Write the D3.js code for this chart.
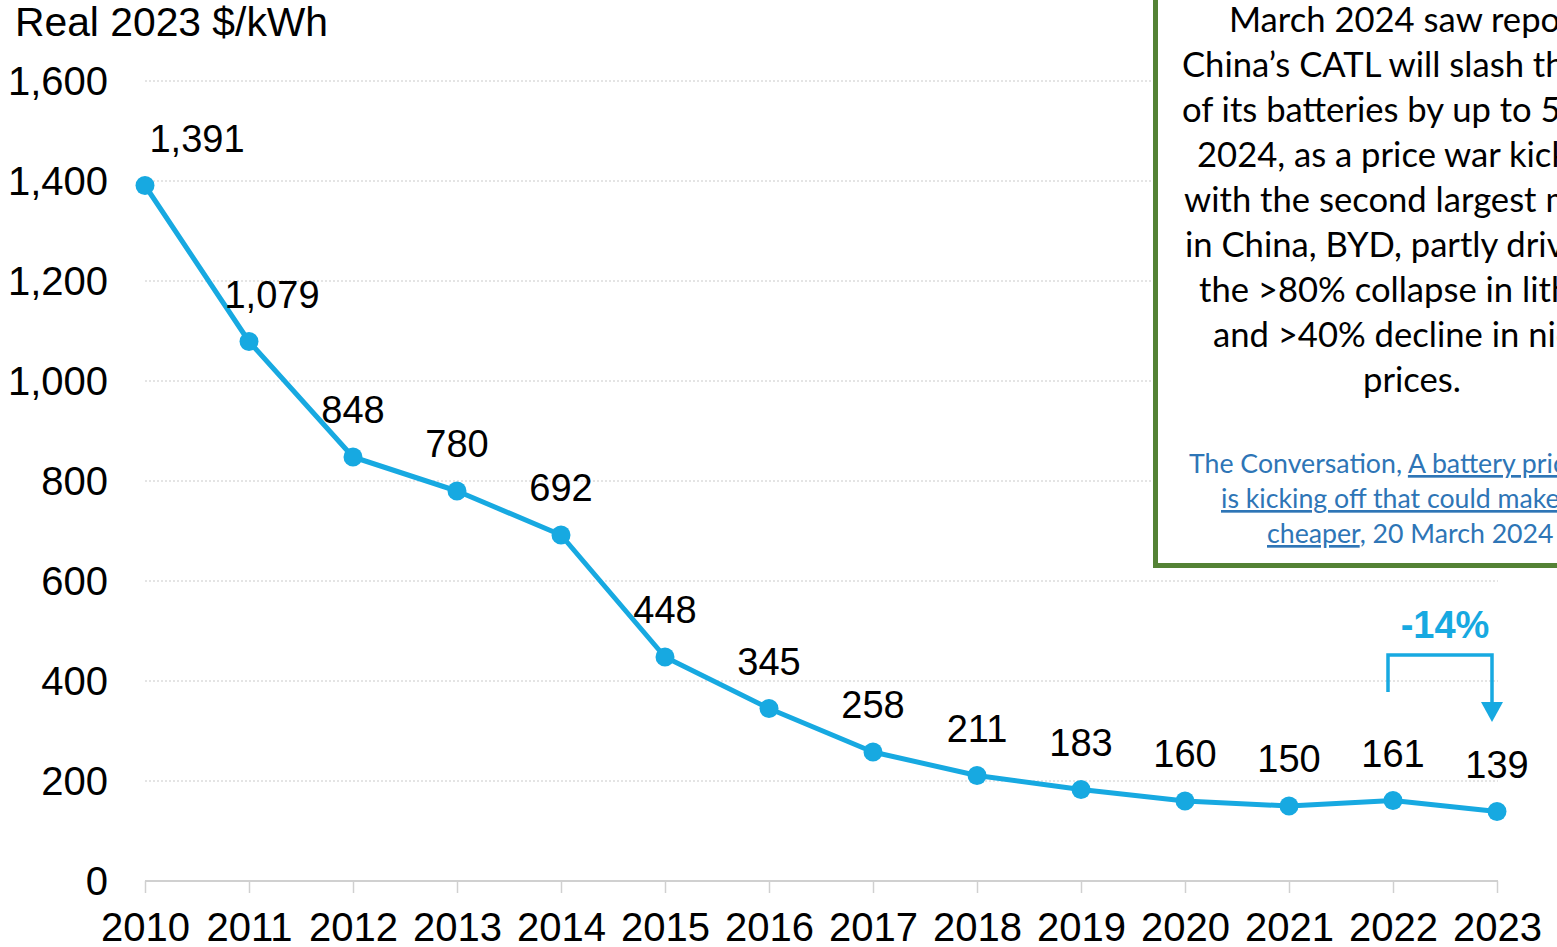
<!DOCTYPE html>
<html>
<head>
<meta charset="utf-8">
<script src="https://cdn.jsdelivr.net/npm/d3@7"></script>
<style>
  html, body { margin: 0; padding: 0; background: #fff; overflow: hidden; }
  svg { display: block; }
</style>
</head>
<body>
<svg id="chart" width="1557" height="947"></svg>
<script>
// ---- data ----
const years = [2010, 2011, 2012, 2013, 2014, 2015, 2016, 2017, 2018, 2019, 2020, 2021, 2022, 2023];
const prices = [1391, 1079, 848, 780, 692, 448, 345, 258, 211, 183, 160, 150, 161, 139];
const yTicks = [0, 200, 400, 600, 800, 1000, 1200, 1400, 1600];
const axisTitle = "Real 2023 $/kWh";
const changeLabel = "-14%";
const noteLines = [
  "March 2024 saw reports that",
  "China\u2019s CATL will slash the cost",
  "of its batteries by up to 50% in",
  "2024, as a price war kicks off",
  "with the second largest maker",
  "in China, BYD, partly driven by",
  "the >80% collapse in lithium",
  "and >40% decline in nickel",
  "prices."
];
const sourceLines = [
  [["The Conversation, ", false], ["A battery price war", true]],
  [["is kicking off that could make EVs", true]],
  [["cheaper", true], [", 20 March 2024", false]]
];

// ---- layout ----
const svg = d3.select("#chart");
const lineColor = "#17A9E1";
const x = d3.scaleLinear().domain([2010, 2023]).range([145, 1497]);
const y = d3.scaleLinear().domain([0, 1600]).range([881, 81]);
const FONT = "'Liberation Sans', Arial, sans-serif";

// gridlines (dotted)
svg.append("g").selectAll("line")
  .data(yTicks.filter(d => d > 0))
  .join("line")
  .attr("x1", x(2010)).attr("x2", x(2023) + 1)
  .attr("y1", d => y(d)).attr("y2", d => y(d))
  .attr("stroke", "#c9c9c9").attr("stroke-width", 1.2)
  .attr("stroke-dasharray", "2,2");

// y axis labels
svg.append("g").selectAll("text")
  .data(yTicks)
  .join("text")
  .attr("x", 108).attr("y", d => y(d)).attr("dy", "0.36em")
  .attr("text-anchor", "end")
  .style("font-family", FONT).style("font-size", "40px").attr("fill", "#000")
  .text(d => d3.format(",")(d));

// x axis
const xAxis = d3.axisBottom(x).tickValues(years).tickFormat(d3.format("d")).tickSize(12).tickPadding(20);
const gx = svg.append("g").attr("transform", `translate(0,${y(0)})`).call(xAxis);
gx.select(".domain").attr("stroke", "#d0d0d0").attr("stroke-width", 2)
  .attr("d", `M${x(2010)},0H${x(2023) + 1}`);
gx.selectAll(".tick line").attr("stroke", "#d0d0d0").attr("stroke-width", 1.5);
gx.selectAll(".tick text")
  .style("font-family", FONT).style("font-size", "40px").attr("fill", "#000")
  .attr("dy", "0.71em").attr("y", 32);

// title
svg.append("text")
  .attr("x", 15).attr("y", 36)
  .attr("textLength", 313).attr("lengthAdjust", "spacingAndGlyphs")
  .style("font-family", FONT).style("font-size", "40px").attr("fill", "#000")
  .text(axisTitle);

// line + points
const pts = years.map((yr, i) => ({ year: yr, value: prices[i] }));
svg.append("path")
  .datum(pts)
  .attr("fill", "none").attr("stroke", lineColor).attr("stroke-width", 5)
  .attr("stroke-linejoin", "round")
  .attr("d", d3.line().x(d => x(d.year)).y(d => y(d.value)));
svg.append("g").selectAll("circle")
  .data(pts).join("circle")
  .attr("cx", d => x(d.year)).attr("cy", d => y(d.value)).attr("r", 9.5)
  .attr("fill", lineColor);

// value labels
const labelDx = { 2010: 52, 2011: 23 };
svg.append("g").selectAll("text")
  .data(pts).join("text")
  .attr("x", d => x(d.year) + (labelDx[d.year] || 0))
  .attr("y", d => y(d.value) - 34)
  .attr("text-anchor", "middle")
  .style("font-family", FONT).style("font-size", "38px").attr("fill", "#000")
  .text(d => d3.format(",")(d.value));

// -14% bracket
const bx1 = x(2022) - 5, bx2 = x(2023) - 5;
const bTop = y(452), bLeftEnd = y(378), bArrowBase = y(358), bTip = y(318);
svg.append("path")
  .attr("d", `M${bx1},${bLeftEnd}V${bTop}H${bx2}V${bArrowBase + 2}`)
  .attr("fill", "none").attr("stroke", lineColor).attr("stroke-width", 3.5);
svg.append("path")
  .attr("d", `M${bx2 - 11},${bArrowBase}L${bx2 + 11},${bArrowBase}L${bx2},${bTip}Z`)
  .attr("fill", lineColor);
svg.append("text")
  .attr("x", (bx1 + bx2) / 2 + 5).attr("y", 638)
  .attr("text-anchor", "middle")
  .style("font-family", FONT).style("font-size", "38px").style("font-weight", "bold")
  .attr("fill", lineColor)
  .text(changeLabel);

// annotation box
svg.append("rect")
  .attr("x", 1155.5).attr("y", -20).attr("width", 700).attr("height", 585.5)
  .attr("fill", "#fff").attr("stroke", "#548235").attr("stroke-width", 5);

const NOTEFONT = "Lato, 'Open Sans', sans-serif";
// fit the note font so that the last line "prices." spans ~98px like the reference
const probe = svg.append("text").style("font-family", NOTEFONT).style("font-size", "100px").text("prices.");
const noteSize = 100 * 98 / probe.node().getComputedTextLength();
probe.text("The Conversation,");
const srcSize = 100 * 213 / probe.node().getComputedTextLength();
probe.remove();

const noteX = [1229, 1182, 1182, 1197, 1184, 1185, 1199, 1213, 1363];
const noteG = svg.append("g");
noteLines.forEach((t, i) => {
  noteG.append("text")
    .attr("x", noteX[i]).attr("y", 32 + i * 45)
    .style("font-family", NOTEFONT).style("font-size", noteSize + "px").attr("fill", "#000")
    .text(t);
});
const srcX = [1189, 1221, 1267];
sourceLines.forEach((parts, i) => {
  const t = svg.append("text")
    .attr("x", srcX[i]).attr("y", 473 + i * 35)
    .style("font-family", NOTEFONT).style("font-size", srcSize + "px").attr("fill", "#2E75B6");
  parts.forEach(([s, u]) => {
    t.append("tspan").text(s).style("text-decoration", u ? "underline" : "none");
  });
});
</script>
</body>
</html>
